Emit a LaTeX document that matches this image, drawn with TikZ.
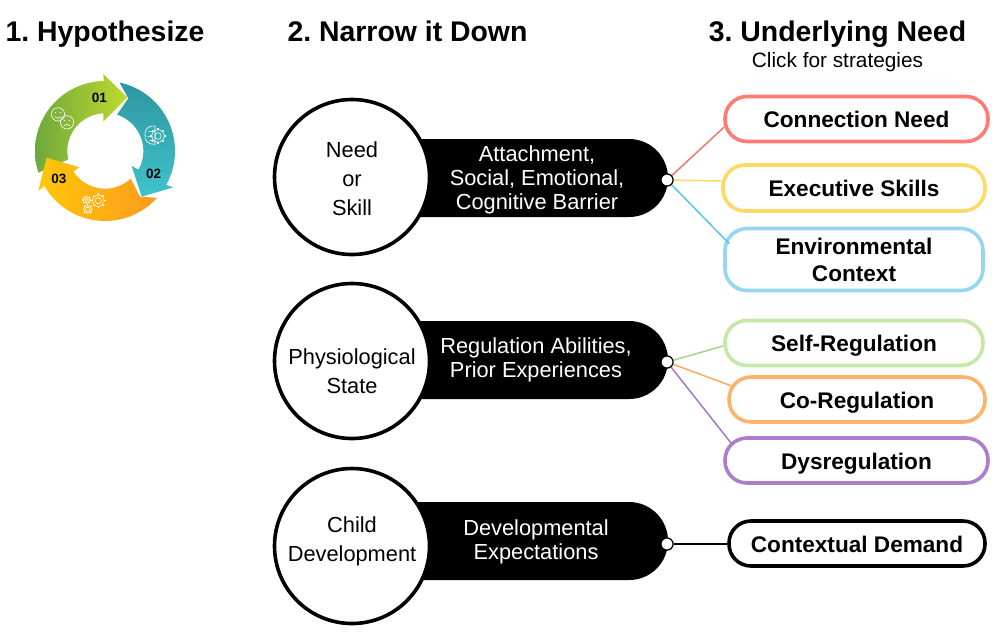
\documentclass[tikz,border=0pt]{standalone}
\usepackage{fontspec}
\setmainfont{Liberation Sans}
\usetikzlibrary{calc}
\frenchspacing
\definecolor{cred}{HTML}{FF7B73}
\definecolor{cyel}{HTML}{FFD966}
\definecolor{cblu}{HTML}{96D6F0}
\definecolor{cgrn}{HTML}{C5E8A8}
\definecolor{corg}{HTML}{FFB26B}
\definecolor{cpur}{HTML}{AD7CCB}
\definecolor{lred}{HTML}{F0786E}
\definecolor{lyel}{HTML}{FFD966}
\definecolor{lblu}{HTML}{5CC4E6}
\definecolor{lgrn}{HTML}{A9D18E}
\definecolor{lorg}{HTML}{FFAA5E}
\definecolor{lpur}{HTML}{A578C4}
\definecolor{gra}{HTML}{6EA83C}
\definecolor{grb}{HTML}{BFD92F}
\definecolor{tea}{HTML}{2E96A0}
\definecolor{teb}{HTML}{3FC3CB}
\definecolor{yea}{HTML}{FFC708}
\definecolor{yeb}{HTML}{FD9A1E}
\newcommand{\capbox}[1]{\raisebox{0pt}[17pt][0pt]{#1}}
\tikzset{
  circ/.style={circle,draw=black,line width=3.6pt,fill=white,minimum size=155pt,inner sep=0pt},
  ctext/.style={align=center,font=\fontsize{21.8}{29}\selectfont},
  pilltxt/.style={white,align=center,font=\fontsize{21.8}{24}\selectfont},
  need/.style={draw=#1,fill=white,line width=3.6pt,rounded corners=22pt,inner sep=0pt,align=center,font=\bfseries\fontsize{22.6}{27}\selectfont},
  conn/.style={draw=#1,line width=1.5pt},
  dotc/.style={circle,draw=black,fill=white,line width=1.1pt,minimum size=12pt,inner sep=0pt},
  head/.style={font=\bfseries\fontsize{28.4}{32}\selectfont,anchor=base},
  ico/.style={draw=white,line width=.6pt},
  num/.style={font=\bfseries\fontsize{13.5}{14}\selectfont,text=black}
}
\newcommand{\gearico}[3]{% x y r (zoom units)
  \draw[ico] (#1,#2) circle[radius=#3*0.42];
  \draw[ico] (#1,#2) circle[radius=#3*0.78];
  \foreach \a in {0,45,...,315}
    \draw[ico,line width=1.2pt] ({#1+#3*0.78*cos(\a)},{#2+#3*0.78*sin(\a)}) -- ({#1+#3*cos(\a)},{#2+#3*sin(\a)});
}
\begin{document}
\begin{tikzpicture}[x=1pt,y=-1pt]
\useasboundingbox (0,0) rectangle (1000,641);
\fill[white] (0,0) rectangle (1000,641);
% titles
\node[head] (t1) at (105,41) {1. Hypothesize};
\node[head] (t2) at (407.5,41) {2. Narrow it Down};
\node[head] (t3) at (837.5,41) {3. Underlying Need};
\node[font=\fontsize{20.8}{24}\selectfont,anchor=base] (t4) at (837.5,67) {Click for strategies};
% cycle icon
\begin{scope}[shift={(20,60)},x=0.3333pt,y=-0.3333pt]
\def\cx{255}\def\cy{273}
\shade[shading angle=60,left color=gra,right color=grb]
 plot[domain=198:91,samples=40] ({\cx+210*cos(\x)},{\cy-210*sin(\x)})
 -- (250,42) -- (322,112) -- (250,185) -- (250,160)
 -- plot[domain=91:193,samples=30] ({\cx+113*cos(\x)},{\cy-113*sin(\x)}) -- cycle;
\shade[top color=tea,bottom color=teb]
 plot[domain=78:-29,samples=40] ({\cx+210*cos(\x)},{\cy-210*sin(\x)})
 -- (460,382) -- (365,410) -- (335,318)
 -- plot[domain=-29:71.6,samples=30] ({\cx+115*cos(\x)},{\cy-115*sin(\x)})
 -- (325,115) -- cycle;
\shade[left color=yea,right color=yeb]
 plot[domain=-42:-150,samples=40] ({\cx+210*cos(\x)},{\cy-210*sin(\x)})
 -- (55,392) -- (80,293) -- (178,322)
 -- plot[domain=-147:-47,samples=30] ({\cx+113*cos(\x)},{\cy-113*sin(\x)})
 -- (360,410) -- cycle;
% smileys
\draw[ico] (114,163) circle[radius=20];
\fill[white] (107,158) circle[radius=2] (121,158) circle[radius=2];
\draw[ico] (104,170) .. controls (110,176) and (118,176) .. (124,170);
\draw[ico] (141,187) circle[radius=20];
\fill[white] (134,182) circle[radius=2] (148,182) circle[radius=2];
\draw[ico] (132,197) .. controls (138,191) and (144,191) .. (150,197);
% brain and gear
\gearico{414}{228}{24}
\draw[ico] (405,198) .. controls (385,195) and (373,210) .. (375,225) .. controls (372,240) and (385,255) .. (405,253) -- cycle;
\draw[ico] (385,215) -- (398,215) (382,230) -- (398,230) (388,243) -- (400,240);
% gears
\gearico{235}{422}{22}
\gearico{203}{448}{15}
\gearico{200}{420}{13}
% numbers
\node[num] (n1) at (238,115) {01};
\node[num] (n2) at (401,342) {02};
\node[num] (n3) at (117,356) {03};
\end{scope}
% pills
\fill[black,rounded corners=38.9pt] (352,139) -- (668,139) -- (668,217) -- (352,217) [sharp corners] -- cycle;
\fill[black,rounded corners=38.9pt] (352,321) -- (668,321) -- (668,399) -- (352,399) [sharp corners] -- cycle;
\fill[black,rounded corners=38.9pt] (352,502) -- (668,502) -- (668,580) -- (352,580) [sharp corners] -- cycle;
\node[circ] (c1) at (352,177) {};
\node[circ] (c2) at (352,361) {};
\node[circ] (c3) at (352,546) {};
\node[ctext] (c1t) at (352,179) {Need\\or\\Skill};
\node[ctext] (c2t) at (352,371.5) {Physiological\\State};
\node[ctext] (c3t) at (352,541.5) {Child\\Development};
\node[pilltxt] (p1) at (537,179.5) {Attachment,\\Social, Emotional,\\Cognitive Barrier};
\node[pilltxt] (p2) at (536,359.5) {Regulation Abilities,\\Prior Experiences};
\node[pilltxt] (p3) at (536,542) {Developmental\\Expectations};
% need boxes
\node[need=cred,minimum width=263pt,minimum height=45pt] (b1) at (856.5,119) {\capbox{Connection Need}};
\node[need=cyel,minimum width=262pt,minimum height=46pt] (b2) at (854,188) {\capbox{Executive Skills}};
\node[need=cblu,minimum width=258pt,minimum height=62pt] (b3) at (854,259.5) {Environmental\\Context};
\node[need=cgrn,minimum width=258pt,minimum height=45pt] (b4) at (854,343) {\capbox{Self-Regulation}};
\node[need=corg,minimum width=256pt,minimum height=45pt] (b5) at (857,399.5) {\capbox{Co-Regulation}};
\node[need=cpur,minimum width=263pt,minimum height=45pt] (b6) at (856.5,460.5) {\capbox{Dysregulation}};
\node[need=black,minimum width=256pt,minimum height=45pt] (b7) at (857,543.5) {\capbox{Contextual Demand}};
% dots
\node[dotc] (d1) at (667,180) {};
\node[dotc] (d2) at (667,362) {};
\node[dotc] (d3) at (667,544) {};
% connectors
\coordinate (e1) at ($(b1.west)+(1,8)$);
\coordinate (e2) at ($(b2.west)+(0,-7)$);
\coordinate (e3) at ($(b3.north west)+(6,17)$);
\coordinate (e4) at ($(b4.west)+(0,3)$);
\coordinate (e5) at ($(b5.north west)+(5,11)$);
\coordinate (e6) at ($(b6.north west)+(8,7)$);
\coordinate (e7) at (b7.west |- d3);
\draw[conn=lred] (d1) -- (e1);
\draw[conn=lyel] (d1) -- (e2);
\draw[conn=lblu] (d1) -- (e3);
\draw[conn=lgrn] (d2) -- (e4);
\draw[conn=lorg] (d2) -- (e5);
\draw[conn=lpur] (d2) -- (e6);
\draw[conn=black] (d3) -- (e7);
\node[dotc] at (d1) {};
\node[dotc] at (d2) {};
\node[dotc] at (d3) {};
\end{tikzpicture}
\end{document}
